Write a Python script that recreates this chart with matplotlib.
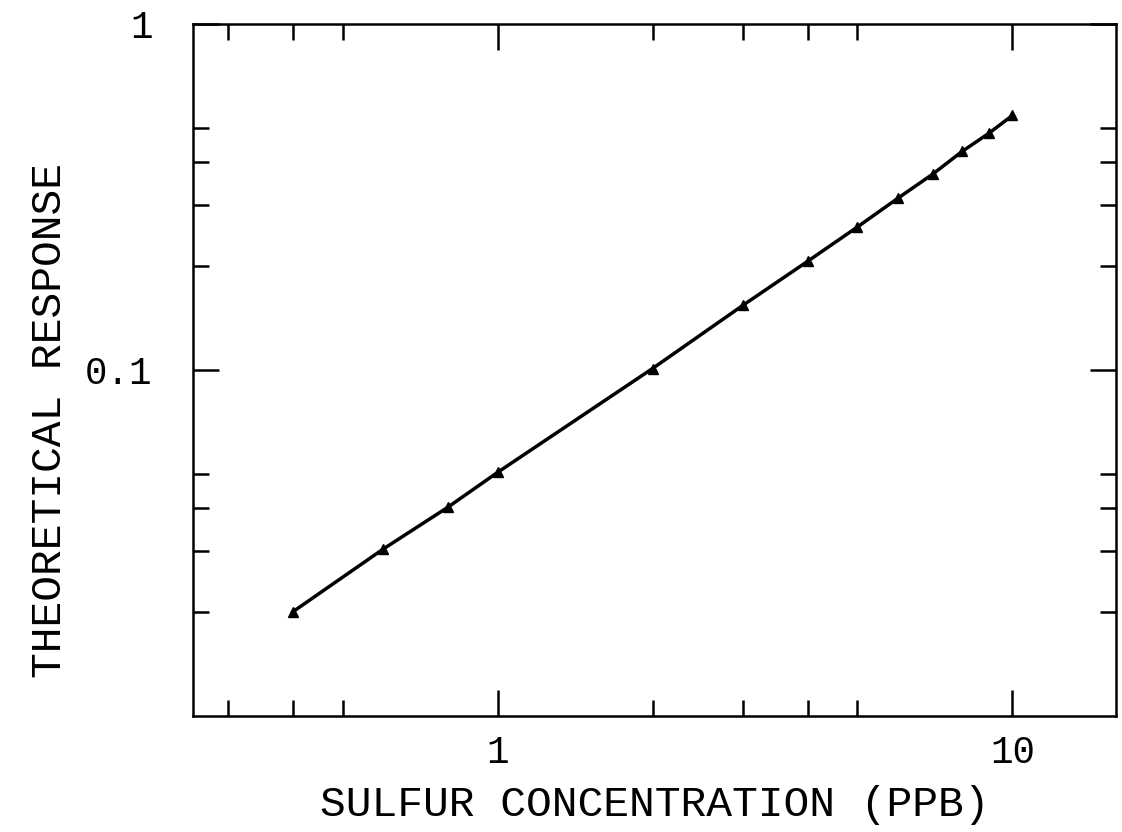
import matplotlib
matplotlib.use("Agg")
import matplotlib.pyplot as plt
from matplotlib.ticker import FixedLocator, NullFormatter, FixedFormatter

conc = [0.4, 0.6, 0.8, 1, 2, 3, 4, 5, 6, 7, 8, 9, 10]
response = [0.0200, 0.0304, 0.0401, 0.0506, 0.101, 0.154, 0.206, 0.259,
            0.314, 0.368, 0.429, 0.483, 0.544]

x_major = [1, 10]
x_major_labels = ["1", "10"]
x_minor = [0.3, 0.4, 0.5, 2, 3, 4, 5]
y_major = [0.1, 1]
y_major_labels = ["0.1", "1"]
y_minor = [0.02, 0.03, 0.04, 0.05, 0.2, 0.3, 0.4, 0.5]

xlabel = "SULFUR CONCENTRATION (PPB)"
ylabel = "THEORETICAL RESPONSE"

font = "Liberation Mono"

fig = plt.figure(figsize=(11.22, 8.32), dpi=100)
ax = fig.add_axes([193/1122, 1 - 716/832, (1116-193)/1122, (716-24)/832])

ax.plot(conc, response, color="black", lw=2.5, marker="^", ms=7,
        markerfacecolor="black", markeredgecolor="black")

ax.set_xscale("log")
ax.set_yscale("log")
ax.set_xlim(0.256, 15.9)
ax.set_ylim(0.01, 1)

ax.xaxis.set_major_locator(FixedLocator(x_major))
ax.xaxis.set_major_formatter(FixedFormatter(x_major_labels))
ax.xaxis.set_minor_locator(FixedLocator(x_minor))
ax.xaxis.set_minor_formatter(NullFormatter())
ax.yaxis.set_major_locator(FixedLocator(y_major))
ax.yaxis.set_major_formatter(FixedFormatter(y_major_labels))
ax.yaxis.set_minor_locator(FixedLocator(y_minor))
ax.yaxis.set_minor_formatter(NullFormatter())

ax.tick_params(which="both", direction="in", top=True, right=True,
               width=1.8, colors="black")
ax.tick_params(which="major", length=19, labelsize=27)
ax.tick_params(which="minor", length=11.5)
ax.tick_params(axis="x", which="major", pad=14)
ax.tick_params(axis="y", which="major", pad=29)
for lab in ax.get_xticklabels() + ax.get_yticklabels():
    lab.set_family(font)

for s in ax.spines.values():
    s.set_linewidth(1.8)

fig.text(655/1122, 1 - 805/832, xlabel, fontsize=31, family=font,
         ha="center", va="center")
fig.text(50/1122, 1 - 420/832, ylabel, fontsize=31, family=font,
         ha="center", va="center", rotation=90)

fig.savefig("out.png", dpi=100, facecolor="white")
